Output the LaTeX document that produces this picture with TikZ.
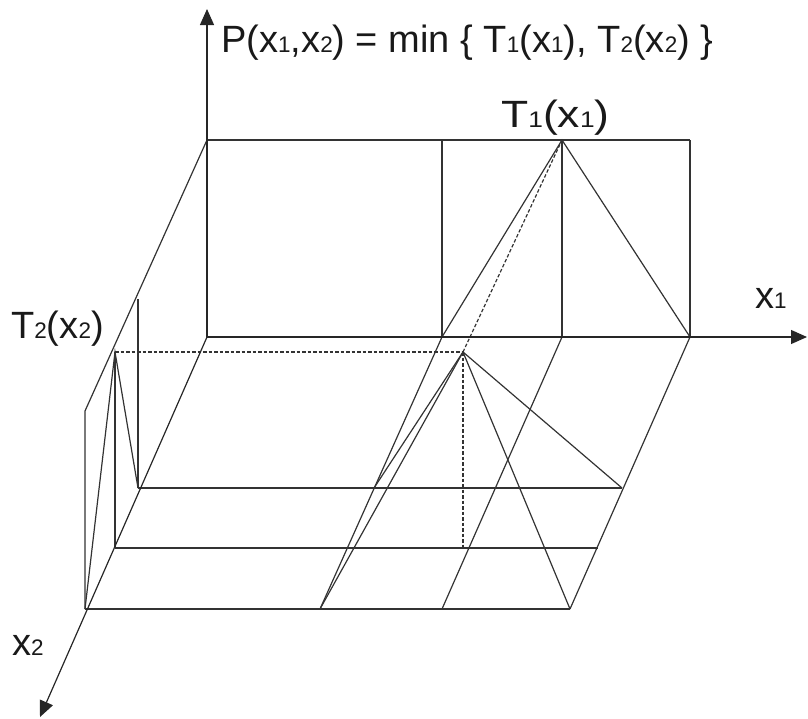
\documentclass[tikz,border=0pt]{standalone}
\usepackage{fontspec}
\setmainfont{Liberation Sans}
\usetikzlibrary{arrows.meta}
\newcommand\lsub[1]{{\fontsize{22.5pt}{22.5pt}\selectfont #1}}
\begin{document}
\begin{tikzpicture}[x=1pt,y=-1pt,
  ln/.style={draw=black!80,line width=1.2pt},
  dsh/.style={draw=black!80,line width=1.2pt,dash pattern=on 3.5pt off 2pt},
  axis/.style={draw=black!85,line width=1.2pt,-{Triangle[length=16pt,width=14pt]}},
  lbl/.style={font=\fontsize{38pt}{40pt}\selectfont,inner sep=0pt,anchor=base west,text=black!90}]
\useasboundingbox (0,0) rectangle (808,718);
% coordinates
\coordinate (O) at (207,337);
\coordinate (Ptop) at (207,140);
\coordinate (A) at (442,337);
\coordinate (Atop) at (442,140);
\coordinate (B) at (562,337);
\coordinate (Btop) at (562,140);
\coordinate (E) at (690,337);
\coordinate (Etop) at (690,140);
\coordinate (L) at (85,411);
\coordinate (O2) at (85,609);
\coordinate (A2) at (320,609);
\coordinate (B2) at (442,609);
\coordinate (E2) at (570,609);
\coordinate (V1t) at (138,299);
\coordinate (V1b) at (138,488);
\coordinate (T2p) at (115,352);
\coordinate (V2b) at (115,548);
\coordinate (C1) at (374,488);
\coordinate (C2) at (622,488);
\coordinate (D2) at (598,548);
\coordinate (Q) at (463,352);
\coordinate (Qb) at (463,548);
\coordinate (Ytip) at (207,9);
\coordinate (X1tip) at (807,337);
\coordinate (X2tip) at (40,717);
% back plane
\draw[ln] (Ptop) -- (Etop);
\draw[ln] (Atop) -- (A);
\draw[ln] (Btop) -- (B);
\draw[ln] (Etop) -- (E);
\draw[ln] (A) -- (Btop) -- (E);
% left plane
\draw[ln] (Ptop) -- (L) -- (O2);
\draw[ln] (V1t) -- (V1b);
\draw[ln] (O2) -- (T2p) -- (V1b);
\draw[ln] (T2p) -- (V2b);
% floor
\draw[ln] (O2) -- (E2);
\draw[ln] (V1b) -- (C2);
\draw[ln] (V2b) -- (D2);
\draw[ln] (A) -- (A2);
\draw[ln] (B) -- (B2);
\draw[ln] (E) -- (E2);
% pyramid
\draw[ln] (C1) -- (Q) -- (C2);
\draw[ln] (A2) -- (Q) -- (E2);
% dashed
\draw[dsh] (T2p) -- (Q);
\draw[dsh] (Q) -- (Qb);
\draw[dsh] (Q) -- (Btop);
% axes
\draw[axis] (O) -- (Ytip);
\draw[axis] (O) -- (X1tip);
\draw[axis] (O) -- (X2tip);
% labels
\node[lbl] (title) at (221,52) {P(x\lsub{1},x\lsub{2}) = min \{ T\lsub{1}(x\lsub{1}), T\lsub{2}(x\lsub{2}) \}};
\node[lbl] (t1) at (501,127) {\scalebox{1.17}[1]{T\lsub{1}(x\lsub{1})}};
\node[lbl] (t2) at (11,338) {T\lsub{2}(x\lsub{2})};
\node[lbl] (lx1) at (755,308) {x\lsub{1}};
\node[lbl] (lx2) at (12,655) {x\lsub{2}};
\end{tikzpicture}
\end{document}
